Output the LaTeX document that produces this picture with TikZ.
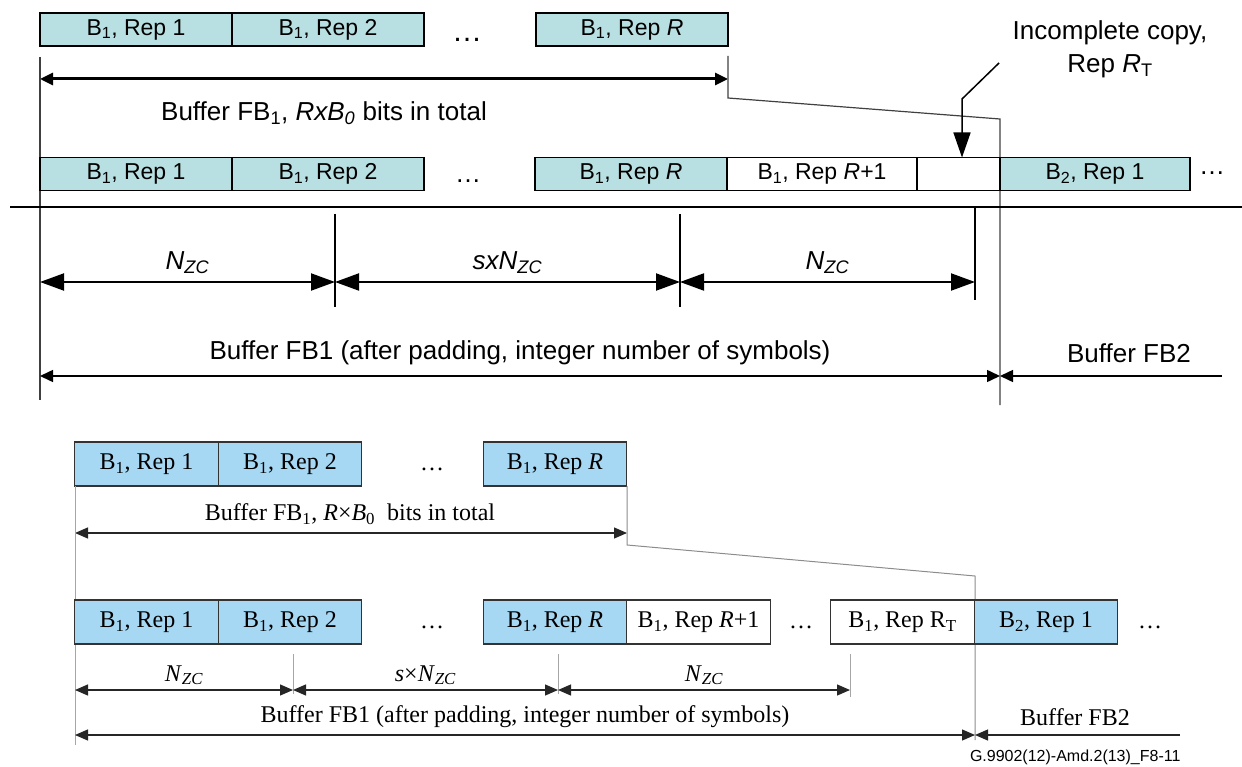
\documentclass[tikz,border=0pt]{standalone}
\usepackage{fontspec}
\setmainfont{Liberation Serif}
\setsansfont{Liberation Sans}
\usetikzlibrary{arrows.meta,positioning}

\definecolor{topfill}{HTML}{B8DFE1}
\definecolor{botfill}{HTML}{A6D7F3}

\tikzset{
  topbox/.style={draw, line width=1.4pt, fill=topfill, minimum width=192pt, minimum height=33pt,
    inner sep=0pt, outer sep=0pt, font=\sffamily\fontsize{23}{27}\selectfont},
  botbox/.style={draw=black!80, line width=1.2pt, fill=botfill, minimum width=143.5pt, minimum height=44pt,
    inner sep=0pt, outer sep=0pt, font=\fontsize{24}{28}\selectfont},
  toptext/.style={font=\sffamily\fontsize{26}{31}\selectfont},
  dotstext/.style={font=\sffamily\fontsize{30}{31}\selectfont},
  bottext/.style={font=\fontsize{24}{28}\selectfont},
  bigtip/.style={{Triangle[length=24pt,width=17pt]}-{Triangle[length=24pt,width=17pt]}, line width=2pt},
  smalltip/.style={{Triangle[length=13pt,width=12pt]}-{Triangle[length=13pt,width=12pt]}},
  bottip/.style={{Triangle[length=13pt,width=11pt]}-{Triangle[length=13pt,width=11pt]}, line width=1.2pt, draw=black!85},
  guide/.style={line width=1.2pt, draw=black!75},
  thinguide/.style={line width=1pt, draw=black!35}
}

\begin{document}
\begin{tikzpicture}[x=1pt,y=-1pt]
\useasboundingbox (0,0) rectangle (1242,767);

% top: first row of copies
\node[topbox] (a1) at (136,29.5) {B\textsubscript{1}, Rep 1};
\node[topbox, right=0pt of a1] (a2) {B\textsubscript{1}, Rep 2};
\node[dotstext] (adots) at (467,40) {\dots};
\node[topbox] (aR) at (632,29.5) {B\textsubscript{1}, Rep \textit{R}};

\coordinate (fbL) at (40,79);
\coordinate (fbR) at (728,79);
\draw[smalltip, line width=3pt] (fbL) -- (fbR);
\node[toptext] (fblabel) at (324,113) {Buffer FB\textsubscript{1}, \textit{RxB}\textsubscript{\textit{0}} bits in total};

% top: boundary lines
\coordinate (v0top) at (40,57);
\coordinate (v0bot) at (40,400);
\coordinate (vRtop) at (728,56);
\coordinate (vRbot) at (728,98);
\coordinate (v2top) at (1000,119);
\coordinate (v2bot) at (1000,405);
\draw[guide] (v0top) -- (v0bot);
\draw[guide] (vRtop) -- (vRbot) -- (v2top) -- (v2bot);

% top: second row of copies
\node[topbox] (b1) at (136,174) {B\textsubscript{1}, Rep 1};
\node[topbox, right=0pt of b1] (b2) {B\textsubscript{1}, Rep 2};
\node[toptext] (bdots) at (468,181) {\dots};
\node[topbox] (bR) at (631,174) {B\textsubscript{1}, Rep \textit{R}};
\node[topbox, fill=white, minimum width=190pt, right=0pt of bR] (bR1) {B\textsubscript{1}, Rep \textit{R}+1};
\node[topbox, fill=white, minimum width=83pt, right=0pt of bR1] (bRT) {};
\node[topbox, minimum width=190pt, right=0pt of bRT] (c1) {B\textsubscript{2}, Rep 1};
\node[toptext] (cdots) at (1212,173) {\dots};

% incomplete copy
\node[toptext, align=center] (inc) at (1110,49) {Incomplete copy,\\[2pt]Rep \textit{R}\textsubscript{T}};
\coordinate (ld1) at (999,63);
\coordinate (ld2) at (962,99);
\draw[line width=1.5pt, -{Triangle[length=25pt,width=17pt]}] (ld1) -- (ld2) -- (ld2 |- bRT.north);

\coordinate (hL) at (10,207);
\coordinate (hR) at (1242,207);
\draw[line width=2.5pt] (hL) -- (hR);

% top: sizes
\coordinate (t1a) at (335,214);
\coordinate (t1b) at (335,307);
\coordinate (t2a) at (680,214);
\coordinate (t2b) at (680,307);
\coordinate (t3a) at (975,207);
\coordinate (t3b) at (975,300);
\draw[line width=1.5pt] (t1a) -- (t1b);
\draw[line width=1.5pt] (t2a) -- (t2b);
\draw[line width=1.5pt] (t3a) -- (t3b);
\draw[bigtip] (v0bot |- 0,282) -- (t1a |- 0,282) node[midway, above=4pt, toptext] (nz1) {\textit{N}\textsubscript{\textit{ZC}}};
\draw[bigtip] (t1a |- 0,282) -- (t2a |- 0,282) node[midway, above=4pt, toptext] (nz2) {\textit{sxN}\textsubscript{\textit{ZC}}};
\draw[bigtip] (t2a |- 0,282) -- (t3a |- 0,282) node[midway, above=4pt, toptext] (nz3) {\textit{N}\textsubscript{\textit{ZC}}};

\coordinate (fb2end) at (1222,376);
\draw[smalltip, line width=1.5pt] (v0bot |- fb2end) -- (v2bot |- fb2end);
\draw[line width=1.5pt, -{Triangle[length=13pt,width=12pt]}] (fb2end) -- (v2bot |- fb2end);
\node[toptext] (pad1) at (520,353) {Buffer FB1 (after padding, integer number of symbols)};
\node[toptext] (fb2) at (1129,353) {Buffer FB2};

% bottom: first row of copies
\node[botbox] (d1) at (146.5,464) {B\textsubscript{1}, Rep 1};
\node[botbox, right=0pt of d1] (d2) {B\textsubscript{1}, Rep 2};
\node[bottext] (ddots) at (432,469) {\dots};
\node[botbox] (dR) at (555,464) {B\textsubscript{1}, Rep \textit{R}};

\coordinate (gbL) at (75,533);
\coordinate (gbR) at (627,533);
\draw[bottip] (gbL) -- (gbR);
\node[bottext] (gblabel) at (350,514) {Buffer FB\textsubscript{1}, \textit{R}×\textit{B}\textsubscript{0}~ bits in total};

\coordinate (w0top) at (75,486);
\coordinate (w0bot) at (75,745);
\coordinate (wRtop) at (627,486);
\coordinate (wRbot) at (627,545);
\coordinate (w2top) at (975,576);
\coordinate (w2bot) at (975,740);
\draw[thinguide] (w0top) -- (w0bot);
\draw[thinguide, draw=black!45] (wRtop) -- (wRbot) -- (w2top) -- (w2bot);

% bottom: second row of copies
\node[botbox] (e1) at (146.5,622) {B\textsubscript{1}, Rep 1};
\node[botbox, right=0pt of e1] (e2) {B\textsubscript{1}, Rep 2};
\node[bottext] (edots) at (432,627) {\dots};
\node[botbox] (eR) at (555,622) {B\textsubscript{1}, Rep \textit{R}};
\node[botbox, fill=white, right=0pt of eR] (eR1) {B\textsubscript{1}, Rep \textit{R}+1};
\node[bottext] (edots2) at (801,627) {\dots};
\node[botbox, fill=white] (eRT) at (902.5,622) {B\textsubscript{1}, Rep R\textsubscript{T}};
\node[botbox, right=0pt of eRT] (f1) {B\textsubscript{2}, Rep 1};
\node[bottext] (fdots) at (1150,627) {\dots};

% bottom: sizes
\coordinate (s1a) at (293,654);
\coordinate (s1b) at (293,694);
\coordinate (s2a) at (558,654);
\coordinate (s2b) at (558,694);
\coordinate (s3a) at (850,654);
\coordinate (s3b) at (850,697);
\draw[thinguide] (s1a) -- (s1b);
\draw[thinguide] (s2a) -- (s2b);
\draw[thinguide] (s3a) -- (s3b);
\draw[bottip] (w0top |- 0,690) -- (s1a |- 0,690) node[midway, above=1pt, bottext] (mz1) {\textit{N}\textsubscript{\textit{ZC}}};
\draw[bottip] (s1a |- 0,690) -- (s2a |- 0,690) node[midway, above=1pt, bottext] (mz2) {\textit{s}×\textit{N}\textsubscript{\textit{ZC}}};
\draw[bottip] (s2a |- 0,690) -- (s3a |- 0,690) node[midway, above=1pt, bottext] (mz3) {\textit{N}\textsubscript{\textit{ZC}}};

\coordinate (gb2end) at (1180,735);
\draw[bottip] (w0top |- gb2end) -- (w2bot |- gb2end);
\draw[line width=1.2pt, draw=black!85, -{Triangle[length=13pt,width=11pt]}] (gb2end) -- (w2bot |- gb2end);
\node[bottext] (pad2) at (525,717) {Buffer FB1 (after padding, integer number of symbols)};
\node[bottext] (gb2) at (1075,717) {Buffer FB2};

\node[anchor=east, font=\sffamily\fontsize{16}{18}\selectfont] (figid) at (1184,757) {G.9902(12)-Amd.2(13)\_F8-11};
\end{tikzpicture}
\end{document}
